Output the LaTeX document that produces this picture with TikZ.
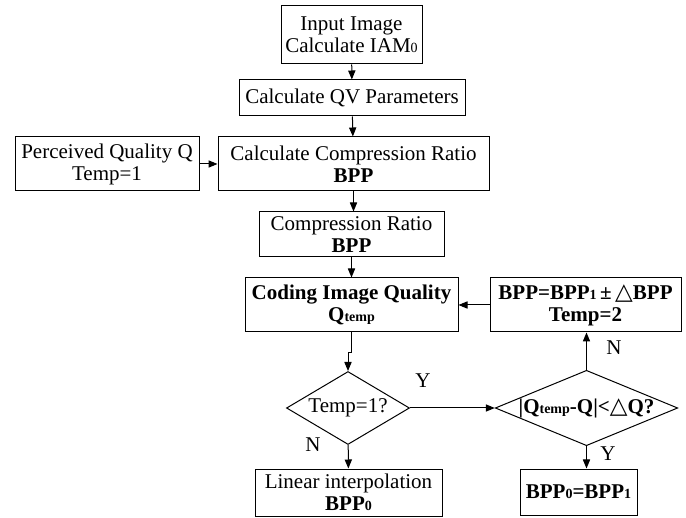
\documentclass[tikz,border=0pt]{standalone}
\usepackage{fontspec}
\setmainfont{Liberation Serif}
\newfontfamily\symfont{DejaVu Sans}
\usetikzlibrary{shapes.geometric,arrows.meta}
\newcommand\lowtxt[1]{{\fontsize{7}{8}\selectfont #1}}
\newcommand\tri{{\symfont\fontsize{11.5}{11}\selectfont △}}
\begin{document}
\begin{tikzpicture}[x=0.5pt,y=-0.5pt,
  every node/.style={font=\fontsize{10.5}{11}\selectfont},
  procbox/.style={draw, line width=0.5pt, inner sep=0pt, align=center},
  decision/.style={draw, line width=0.5pt, diamond, inner sep=0pt, align=center},
  flow/.style={-{Triangle[length=4.5pt,width=3.6pt]}, line width=0.5pt},
  tag/.style={inner sep=0pt}]
\useasboundingbox (0,0) rectangle (686,518);

\node[procbox, minimum width=70.5pt, minimum height=29pt] (input) at (351.5,35)
  {Input Image\\Calculate IAM\lowtxt{0}};
\node[procbox, minimum width=113pt, minimum height=18pt] (qv) at (352,98)
  {Calculate QV Parameters};
\node[procbox, minimum width=92pt, minimum height=27pt] (perc) at (107,164)
  {Perceived Quality Q\\Temp=1};
\node[procbox, minimum width=135.5pt, minimum height=27pt] (calc) at (353.5,164)
  {Calculate Compression Ratio\\\textbf{BPP}};
\node[procbox, minimum width=92.5pt, minimum height=22.5pt] (ratio) at (351.5,234.5)
  {Compression Ratio\\\textbf{BPP}};
\node[procbox, minimum width=106.5pt, minimum height=27pt, font=\bfseries\fontsize{10.5}{11}\selectfont] (coding) at (351.5,305)
  {Coding Image Quality\\Q\lowtxt{temp}};
\node[procbox, minimum width=95.5pt, minimum height=27pt, font=\bfseries\fontsize{10.5}{11}\selectfont] (update) at (585.5,305)
  {BPP=BPP\lowtxt{1}\,±\,\tri BPP\\Temp=2};
\node[decision, minimum width=61.5pt, minimum height=36.5pt, aspect=1.68] (temp) at (348,408)
  {Temp=1?};
\node[decision, minimum width=88.5pt, minimum height=36.5pt, aspect=2.42] (diff) at (586.5,408)
  {\textbf{|Q\lowtxt{temp}-Q|<}\tri\textbf{Q?}};
\node[procbox, minimum width=93.5pt, minimum height=23.5pt] (linear) at (348.5,492.5)
  {Linear interpolation\\\textbf{BPP\lowtxt{0}}};
\node[procbox, minimum width=58.5pt, minimum height=23pt, font=\bfseries\fontsize{10.5}{11}\selectfont] (final) at (578.5,492)
  {BPP\lowtxt{0}=BPP\lowtxt{1}};

\draw[flow] (input) -- (qv);
\draw[flow] (qv) -- (calc);
\draw[flow] (perc) -- (calc);
\draw[flow] (calc.south) -- (calc.south |- ratio.north);
\draw[flow] (ratio) -- (coding);
\draw[flow] (update) -- (coding);
\draw[flow] (coding.south) -- ++(0,20) -| (temp.north);
\draw[flow] (temp) -- (diff);
\draw[flow] (temp) -- (linear);
\draw[flow] (diff.north) -- (diff.north |- update.south);
\draw[flow] (diff.south) -- (diff.south |- final.north);

\node[tag] (ylab1) at (423,381) {Y};
\node[tag] (nlab1) at (313,445) {N};
\node[tag] (nlab2) at (614,348) {N};
\node[tag] (ylab2) at (608,454) {Y};
\end{tikzpicture}
\end{document}
